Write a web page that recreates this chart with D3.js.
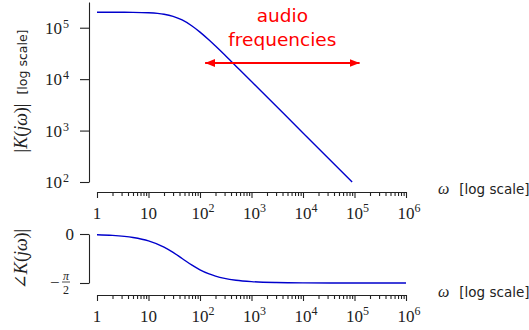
<!DOCTYPE html>
<html lang="en">
<head>
<meta charset="UTF-8">
<title>Bode plot</title>
<script src="https://cdn.jsdelivr.net/npm/d3@7"></script>
<style>
  body { margin: 0; background: #fff; }
  .serif { font-family: "Liberation Serif", "DejaVu Serif", serif; }
  .sans { font-family: "DejaVu Sans", "Open Sans", sans-serif; }
  .domain, .tick line { stroke: #222; stroke-width: 1.1; }
</style>
</head>
<body>
<script>
  // magnitude |K(jw)|
  const omegaMag = [1, 2, 5, 10, 15, 20, 30, 45, 70, 100, 150, 200, 300, 500, 1000, 10000, 90000];
  const magnitude = [2.0e5, 1.998e5, 1.988e5, 1.952e5, 1.897e5, 1.828e5, 1.664e5, 1.414e5, 1.081e5,
                     8.21e4, 5.75e4, 4.39e4, 2.97e4, 1.79e4, 9.0e3, 900, 100];

  // phase angle K(jw), radians
  const omegaPhase = [1, 2, 5, 10, 20, 30, 45, 70, 100, 150, 200, 300, 500, 1000, 3000, 1e4, 1e5, 1e6];
  const phase = [-0.022, -0.044, -0.111, -0.219, -0.418, -0.588, -0.785, -0.999, -1.148, -1.279,
                 -1.349, -1.422, -1.481, -1.526, -1.556, -1.566, -1.570, -1.571];

  // audio band 20 Hz .. 20 kHz in rad/s
  const audioBand = [125.7, 125664];

  const xDecades = [1, 10, 1e2, 1e3, 1e4, 1e5, 1e6];
  const xTickLabels = [["1", ""], ["10", ""], ["10", "2"], ["10", "3"], ["10", "4"], ["10", "5"], ["10", "6"]];
  const magTicks = [1e2, 1e3, 1e4, 1e5];
  const magTickLabels = [["10", "2"], ["10", "3"], ["10", "4"], ["10", "5"]];

  const svg = d3.select("body").append("svg")
    .attr("width", 529)
    .attr("height", 330);

  const x = d3.scaleLog().domain([1, 1e6]).range([97, 406]);
  const yMag = d3.scaleLog().domain([1e2, Math.pow(10, 5.5)]).range([182, 2]);
  const yPh = d3.scaleLinear().domain([-Math.PI / 2, 0]).range([283, 234]);

  const isDecade = d => Math.abs(Math.log10(d) - Math.round(Math.log10(d))) < 1e-9;

  function drawXAxis(y0) {
    const g = svg.append("g").attr("transform", `translate(0,${y0})`);
    const minor = x.ticks().filter(d => !isDecade(d));
    g.append("g").call(d3.axisBottom(x).tickValues(minor).tickSize(4).tickFormat("").tickSizeOuter(0));
    g.append("g").call(d3.axisBottom(x).tickValues(xDecades).tickSize(6).tickFormat("").tickSizeOuter(0));
    xDecades.forEach((d, i) => {
      const [base, sup] = xTickLabels[i];
      g.append("text").attr("class", "serif")
        .attr("x", x(d)).attr("y", 27)
        .attr("text-anchor", "middle")
        .attr("font-size", 17).attr("fill", "#222")
        .text(base);
      if (sup) {
        g.append("text").attr("class", "serif")
          .attr("x", x(d) + 8.5).attr("y", 20)
          .attr("text-anchor", "start")
          .attr("font-size", 12).attr("fill", "#222")
          .text(sup);
      }
    });
    // omega [log scale]
    const t = g.append("text").attr("x", 438).attr("y", 2).attr("fill", "#222").attr("text-anchor", "start");
    t.append("tspan").attr("class", "serif").attr("font-style", "italic").attr("font-size", 16).text("ω");
    t.append("tspan").attr("class", "sans").attr("font-size", 13.5).attr("dx", 10).text("[log scale]");
  }

  // ---- magnitude panel ----
  const gMagAxis = svg.append("g").attr("transform", "translate(89,0)");
  gMagAxis.call(d3.axisLeft(yMag).tickValues(magTicks).tickSize(9).tickFormat("").tickSizeOuter(0));
  magTicks.forEach((d, i) => {
    const [base, sup] = magTickLabels[i];
    gMagAxis.append("text").attr("class", "serif")
      .attr("x", -27).attr("y", yMag(d) + 6)
      .attr("text-anchor", "end").attr("font-size", 17).attr("fill", "#222")
      .text(base);
    gMagAxis.append("text").attr("class", "serif")
      .attr("x", -26).attr("y", yMag(d))
      .attr("text-anchor", "start")
      .attr("font-size", 12).attr("fill", "#222")
      .text(sup);
  });

  drawXAxis(192);

  const magLine = d3.line()
    .x((d, i) => x(omegaMag[i]))
    .y(d => yMag(d))
    .curve(d3.curveMonotoneX);

  svg.append("path")
    .datum(magnitude)
    .attr("d", magLine)
    .attr("fill", "none")
    .attr("stroke", "#0000cc")
    .attr("stroke-width", 1.4);

  // y label
  const magLabel = svg.append("text")
    .attr("transform", "translate(27,91) rotate(-90)")
    .attr("text-anchor", "middle")
    .attr("fill", "#222");
  magLabel.append("tspan").attr("class", "serif").attr("font-size", 18).text("|");
  magLabel.append("tspan").attr("class", "serif").attr("font-size", 18).attr("font-style", "italic").text("K");
  magLabel.append("tspan").attr("class", "serif").attr("font-size", 18).text("(");
  magLabel.append("tspan").attr("class", "serif").attr("font-size", 18).attr("font-style", "italic").text("jω");
  magLabel.append("tspan").attr("class", "serif").attr("font-size", 18).text(")|");
  magLabel.append("tspan").attr("class", "sans").attr("font-size", 12.5).attr("dx", 9).text("[log scale]");

  // audio frequency band
  svg.append("defs").append("marker")
    .attr("id", "head")
    .attr("viewBox", "0 0 10 8")
    .attr("refX", 10).attr("refY", 4)
    .attr("markerWidth", 10).attr("markerHeight", 8)
    .attr("markerUnits", "userSpaceOnUse")
    .attr("orient", "auto-start-reverse")
    .append("path").attr("d", "M0,0L10,4L0,8Z").attr("fill", "#ff0000");

  svg.append("line")
    .attr("x1", x(audioBand[0])).attr("x2", x(audioBand[1]))
    .attr("y1", 63).attr("y2", 63)
    .attr("stroke", "#ff0000").attr("stroke-width", 2)
    .attr("marker-start", "url(#head)")
    .attr("marker-end", "url(#head)");

  const midBand = (x(audioBand[0]) + x(audioBand[1])) / 2;
  svg.append("text").attr("class", "sans")
    .attr("x", midBand).attr("y", 22)
    .attr("text-anchor", "middle").attr("font-size", 18.5).attr("fill", "#ff0000")
    .text("audio");
  svg.append("text").attr("class", "sans")
    .attr("x", midBand).attr("y", 46)
    .attr("text-anchor", "middle").attr("font-size", 18.5).attr("fill", "#ff0000")
    .text("frequencies");

  // ---- phase panel ----
  const gPhAxis = svg.append("g").attr("transform", "translate(89,0)");
  gPhAxis.call(d3.axisLeft(yPh).tickValues([-Math.PI / 2, 0]).tickSize(9).tickFormat("").tickSizeOuter(0));
  gPhAxis.append("text").attr("class", "serif")
    .attr("x", -15).attr("y", yPh(0) + 6)
    .attr("text-anchor", "end").attr("font-size", 17).attr("fill", "#222")
    .text("0");
  const yHalf = yPh(-Math.PI / 2);
  gPhAxis.append("text").attr("class", "serif")
    .attr("x", -39).attr("y", yHalf + 5)
    .attr("text-anchor", "start")
    .attr("font-size", 17).attr("fill", "#222")
    .text("−");
  gPhAxis.append("text").attr("class", "serif")
    .attr("x", -23).attr("y", yHalf - 3)
    .attr("text-anchor", "middle").attr("font-size", 12).attr("font-style", "italic").attr("fill", "#222")
    .text("π");
  gPhAxis.append("line")
    .attr("x1", -27).attr("x2", -19)
    .attr("y1", yHalf - 1).attr("y2", yHalf - 1)
    .attr("stroke", "#222").attr("stroke-width", 0.8);
  gPhAxis.append("text").attr("class", "serif")
    .attr("x", -23).attr("y", yHalf + 11)
    .attr("text-anchor", "middle").attr("font-size", 12).attr("fill", "#222")
    .text("2");

  drawXAxis(295);

  const phLine = d3.line()
    .x((d, i) => x(omegaPhase[i]))
    .y(d => yPh(d))
    .curve(d3.curveMonotoneX);

  svg.append("path")
    .datum(phase)
    .attr("d", phLine)
    .attr("fill", "none")
    .attr("stroke", "#0000cc")
    .attr("stroke-width", 1.4);

  const phLabel = svg.append("text")
    .attr("transform", "translate(27,259) rotate(-90)")
    .attr("text-anchor", "middle")
    .attr("fill", "#222");
  phLabel.append("tspan").attr("class", "serif").attr("font-size", 18).text("∠");
  phLabel.append("tspan").attr("class", "serif").attr("font-size", 18).attr("font-style", "italic").text("K");
  phLabel.append("tspan").attr("class", "serif").attr("font-size", 18).text("(");
  phLabel.append("tspan").attr("class", "serif").attr("font-size", 18).attr("font-style", "italic").text("jω");
  phLabel.append("tspan").attr("class", "serif").attr("font-size", 18).text(")|");
</script>
</body>
</html>
